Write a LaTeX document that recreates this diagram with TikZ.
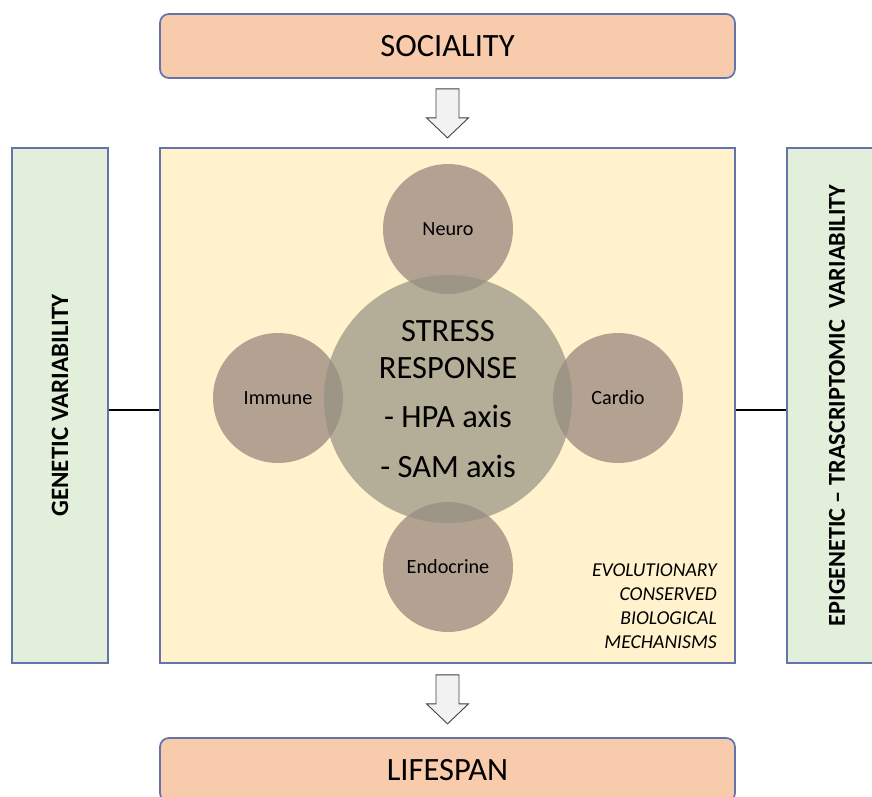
\documentclass[tikz,border=0pt]{standalone}
\usepackage{fontspec}
\setmainfont{Carlito}
\usetikzlibrary{calc}
\definecolor{frameblue}{HTML}{6274A8}
\definecolor{salmon}{HTML}{F8CBAD}
\definecolor{paleyellow}{HTML}{FFF2CC}
\definecolor{palegreen}{HTML}{E2EFDA}
\definecolor{taupe}{HTML}{948079}
\definecolor{khaki}{HTML}{959182}
\definecolor{arrowgray}{HTML}{F2F2F2}
\tikzset{
	outcome/.style={draw=frameblue, line width=1pt, fill=salmon, rounded corners=5pt,
		minimum width=11.5cm, minimum height=1.28cm, font=\fontsize{18.5}{21}\selectfont},
	panel/.style={draw=frameblue, line width=1pt},
	sidetext/.style={rotate=90, font=\bfseries\fontsize{14.2}{16}\selectfont},
	system/.style={circle, fill=taupe, fill opacity=0.7, text opacity=1, minimum size=2.6cm,
		inner sep=0pt, font=\fontsize{11.5}{14}\selectfont},
	core/.style={circle, fill=khaki, fill opacity=0.7, text opacity=1, minimum size=4.96cm,
		inner sep=0pt, align=center, font=\fontsize{18.5}{21}\selectfont},
	link/.style={line width=1.6pt, black},
	blockarr/.style={draw=black!75, line width=0.5pt, fill=arrowgray, line join=miter},
}
\newcommand{\blockarrow}[1]{%
	\draw[blockarr, shift={(#1)}] (-11.5,0) -- (11.5,0) -- (11.5,29) -- (21,29) -- (0,49)
		-- (-21,29) -- (-11.5,29) -- cycle;}

\begin{document}
\begin{tikzpicture}[x=0.02cm, y=-0.02cm]
	%%%%% START %%%%%
	\useasboundingbox (0,0) rectangle (872,796);
	
	\node[outcome] (sociality) at (447.5,46) {SOCIALITY};
	\node[outcome] (lifespan) at (447.5,770) {LIFESPAN};
	
	\node[panel, fill=paleyellow, minimum width=11.5cm, minimum height=10.3cm] (mechanisms) at (447.5,405.5) {};
	\node[panel, fill=palegreen, minimum width=1.92cm, minimum height=10.3cm] (genetic) at (60,405.5) {};
	\node[panel, fill=palegreen, minimum width=2cm, minimum height=10.3cm] (epigenetic) at (837,405.5) {};
	\node[sidetext] (genlabel) at (genetic) {GENETIC VARIABILITY};
	\node[sidetext, font=\bfseries\fontsize{13.8}{16}\selectfont] (epilabel) at (epigenetic) {EPIGENETIC -- TRASCRIPTOMIC\ \ VARIABILITY};
	
	\coordinate (tie) at (0,410);
	\draw[link] (genetic.east |- tie) -- (mechanisms.west |- tie);
	\draw[link] (mechanisms.east |- tie) -- (epigenetic.west |- tie);
	
	% block arrows
	\path (sociality.south) ++(0,10) coordinate (arrtop);
	\path (mechanisms.south) ++(0,11) coordinate (arrbot);
	\blockarrow{arrtop}
	\blockarrow{arrbot}
	
	% systems round the stress response
	\node[system] (neuro) at (448,229) {Neuro};
	\node[system] (immune) at (278,398) {Immune};
	\node[system] (cardio) at (618,398) {Cardio};
	\node[system] (endocrine) at (448,567) {Endocrine};
	\node[core] (stress) at (448,399) {STRESS\\RESPONSE\\[7pt]- HPA axis\\[7pt]- SAM axis};
	
	\node[anchor=east, align=right, font=\itshape\fontsize{11.2}{13.6}\selectfont] (evolution) at (723,606)
		{EVOLUTIONARY\\CONSERVED\\BIOLOGICAL\\MECHANISMS};
	
	%%%%% END %%%%%
\end{tikzpicture}
\end{document}
